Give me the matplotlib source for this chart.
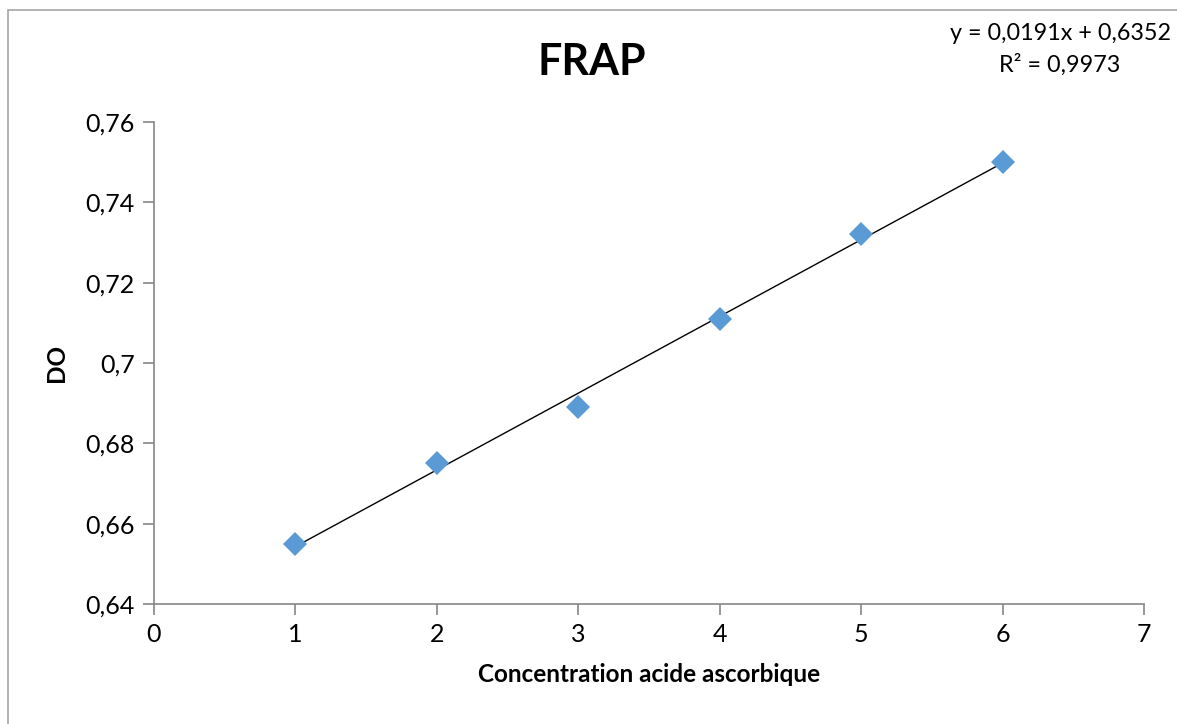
import matplotlib.pyplot as plt
import numpy as np
from matplotlib.ticker import FuncFormatter

concentration = [1, 2, 3, 4, 5, 6]
do_values = [0.655, 0.675, 0.689, 0.711, 0.732, 0.750]
slope = 0.0191
intercept = 0.6352
r2 = 0.9973

plt.rcParams['font.family'] = ['Lato', 'DejaVu Sans']

fig = plt.figure(figsize=(11.77, 7.24), dpi=100)
ax = fig.add_axes([154/1177, 1 - 604/724, (1144 - 154)/1177, (604 - 122)/724])

# light frame around the chart area, like the excel export
fig.patches.append(plt.Rectangle((8/1177, -0.01), 1.1, 1 - 10/724 + 0.01,
                                 transform=fig.transFigure, fill=False,
                                 edgecolor='#a6a6a6', linewidth=1.2))

# trend line from the fitted equation
xs = np.array([concentration[0], concentration[-1]])
ax.plot(xs, slope*xs + intercept, color='black', linewidth=1, zorder=2)
ax.plot(concentration, do_values, linestyle='none', marker='D', markersize=12,
        color='#5b9bd5', markeredgewidth=0, zorder=3)

ax.set_xlim(0, 7)
ax.set_ylim(0.64, 0.76)
ax.set_xticks(range(0, 8))
ax.set_yticks(np.round(np.arange(0.64, 0.7601, 0.02), 2))
ax.yaxis.set_major_formatter(FuncFormatter(lambda v, p: f"{round(v, 2):g}".replace('.', ',')))

for s in ['top', 'right']:
    ax.spines[s].set_visible(False)
for s in ['left', 'bottom']:
    ax.spines[s].set_color('#868686')
    ax.spines[s].set_linewidth(1.2)
ax.tick_params(direction='out', length=8, width=1.2, color='#868686',
               labelsize=18, pad=6)

ax.set_xlabel('Concentration acide ascorbique', fontsize=17.5, fontweight='bold', labelpad=12)
ax.set_ylabel('DO', fontsize=17.5, fontweight='bold', labelpad=12)

fig.text(592/1177, 1 - 62/724, 'FRAP', fontsize=31, fontweight='bold',
         ha='center', va='center')
fig.text(1060/1177, 1 - 33/724, f"y = {slope:.4f}x + {intercept:.4f}".replace('.', ','),
         fontsize=16.8, ha='center', va='center')
fig.text(1060/1177, 1 - 65/724, f"R² = {r2:.4f}".replace('.', ','),
         fontsize=16.8, ha='center', va='center')

fig.savefig('out.png', dpi=100)
